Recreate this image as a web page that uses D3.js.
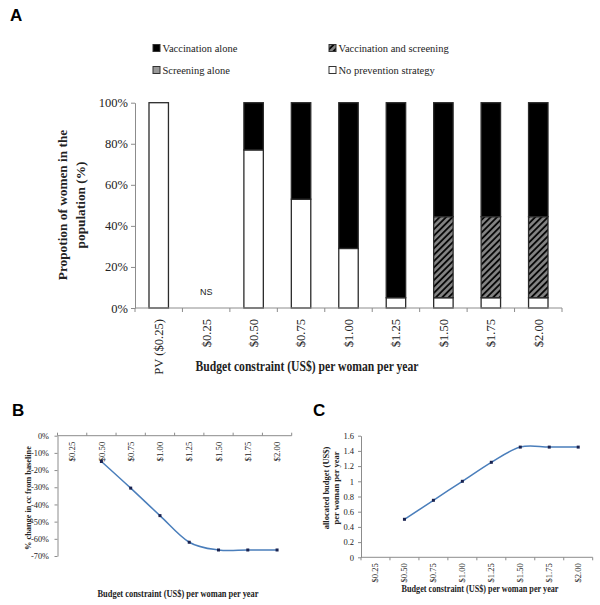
<!DOCTYPE html>
<html>

<head>
    <meta charset="utf-8" />
    <title>Budget constraint</title>
    <script src="https://d3js.org/d3.v7.min.js"></script>
    <style>
        body { margin: 0; background: #fff; }
        text { font-family: "Liberation Serif", "Times New Roman", serif; fill: #222; }
        .panel { font-family: "Liberation Sans", Arial, sans-serif; font-weight: bold; font-size: 17px; fill: #000; }
    </style>
</head>

<body>
    <svg id="chart" width="600" height="605"></svg>

    <script>

        // ---- data: panel A (stacked %, bottom -> top) ----
        var catsA = ["PV ($0.25)", "$0.25", "$0.50", "$0.75", "$1.00", "$1.25", "$1.50", "$1.75", "$2.00"];
        var noPrevention = [100, 0, 77, 53, 29, 5, 5, 5, 5];
        var screeningAlone = [0, 0, 0, 0, 0, 0, 0, 0, 0];
        var vaccAndScreening = [0, 0, 0, 0, 0, 0, 39.5, 39.5, 39.5];
        var vaccinationAlone = [0, 0, 23, 47, 71, 95, 55.5, 55.5, 55.5];
        var notSimulated = ["$0.25"];
        var pctTicks = [0, 20, 40, 60, 80, 100];

        // ---- data: panels B and C ----
        var catsBC = ["$0.25", "$0.50", "$0.75", "$1.00", "$1.25", "$1.50", "$1.75", "$2.00"];
        var ccChange = [null, -15, -30.5, -46.5, -62, -66.5, -66.5, -66.5];
        var allocated = [null, 0.5, 0.75, 1.0, 1.25, 1.45, 1.45, 1.45];
        var ccTicks = [0, -10, -20, -30, -40, -50, -60, -70];
        var budgetTicks = [0, 0.2, 0.4, 0.6, 0.8, 1, 1.2, 1.4, 1.6];

        var svg = d3.select("#chart");
        var axisColor = "#8c8c8c";

        // hatch for vaccination and screening
        var defs = svg.append("defs");
        var pat = defs.append("pattern")
            .attr("id", "hatch")
            .attr("patternUnits", "userSpaceOnUse")
            .attr("width", 4.5).attr("height", 4.5)
            .attr("patternTransform", "rotate(45)");
        pat.append("rect").attr("width", 4.5).attr("height", 4.5).attr("fill", "#858585");
        pat.append("line").attr("x1", 1).attr("y1", 0).attr("x2", 1).attr("y2", 4.5)
            .attr("stroke", "#000").attr("stroke-width", 1.8);

        var series = [
            { name: "No prevention strategy", values: noPrevention, fill: "#fff" },
            { name: "Screening alone", values: screeningAlone, fill: "#999" },
            { name: "Vaccination and screening", values: vaccAndScreening, fill: "url(#hatch)" },
            { name: "Vaccination alone", values: vaccinationAlone, fill: "#000" }
        ];

        // ================= Panel A =================
        svg.append("text").attr("class", "panel").attr("x", 10).attr("y", 21).text("A");

        // legend
        var legendItems = [
            { s: series[3], x: 153, y: 48 },
            { s: series[2], x: 329, y: 48 },
            { s: series[1], x: 153, y: 70 },
            { s: series[0], x: 329, y: 70 }
        ];
        var lg = svg.append("g").selectAll("g").data(legendItems).enter().append("g")
            .attr("transform", function (d) { return "translate(" + d.x + "," + d.y + ")"; });
        lg.append("rect").attr("x", 0).attr("y", -3.5).attr("width", 7).attr("height", 7)
            .attr("fill", function (d) { return d.s.fill; })
            .attr("stroke", "#333").attr("stroke-width", 1);
        lg.append("text").attr("x", 9.5).attr("dy", "0.35em")
            .style("font-size", "10.5px")
            .text(function (d) { return d.s.name; });

        var xA = d3.scaleBand().domain(catsA).range([135, 562]).padding(0);
        var yA = d3.scaleLinear().domain([0, 100]).range([308, 102.7]);
        var barW = xA.bandwidth() * 0.41;

        // stacked bars
        var stackRows = catsA.map(function (c, i) {
            var row = { cat: c };
            series.forEach(function (s) { row[s.name] = s.values[i]; });
            return row;
        });
        var stack = d3.stack().keys(series.map(function (s) { return s.name; }));
        var layers = stack(stackRows);

        svg.append("g").selectAll("g").data(layers).enter().append("g")
            .attr("fill", function (d, i) { return series[i].fill; })
            .selectAll("rect")
            .data(function (d) { return d.filter(function (p) { return p[1] - p[0] > 0; }); })
            .enter().append("rect")
            .attr("x", function (d) { return xA(d.data.cat) + (xA.bandwidth() - barW) / 2; })
            .attr("y", function (d) { return yA(d[1]); })
            .attr("width", barW)
            .attr("height", function (d) { return yA(d[0]) - yA(d[1]); })
            .attr("stroke", "#2b2b2b").attr("stroke-width", 1.3);

        // NS label
        svg.append("g").selectAll("text").data(notSimulated).enter().append("text")
            .attr("x", function (d) { return xA(d) + xA.bandwidth() / 2; })
            .attr("y", 295)
            .attr("text-anchor", "middle")
            .style("font-family", "Liberation Sans, Arial, sans-serif")
            .style("font-size", "9px")
            .text("NS");

        // y axis A
        var yAxisA = svg.append("g").attr("transform", "translate(135,0)")
            .call(d3.axisLeft(yA).tickValues(pctTicks).tickSize(4).tickSizeOuter(0)
                .tickFormat(function (d) { return d + "%"; }));
        yAxisA.selectAll("text").style("font-size", "12.5px").attr("x", -7);
        yAxisA.select(".domain").attr("stroke", axisColor);
        yAxisA.selectAll(".tick line").attr("stroke", axisColor);

        // x axis A: line + ticks at category boundaries
        var gxA = svg.append("g");
        gxA.append("line").attr("x1", 135).attr("x2", 562).attr("y1", yA(0)).attr("y2", yA(0))
            .attr("stroke", axisColor);
        gxA.selectAll("line.tk").data(catsA.concat(["end"])).enter().append("line")
            .attr("class", "tk")
            .attr("x1", function (d, i) { return 135 + i * xA.step(); })
            .attr("x2", function (d, i) { return 135 + i * xA.step(); })
            .attr("y1", yA(0)).attr("y2", yA(0) + 4)
            .attr("stroke", axisColor);
        gxA.selectAll("text").data(catsA).enter().append("text")
            .attr("transform", function (d) {
                return "translate(" + (xA(d) + xA.bandwidth() / 2) + "," + (yA(0) + 11) + ") rotate(-90)";
            })
            .attr("text-anchor", "end").attr("dy", "0.35em")
            .style("font-size", "12.6px")
            .text(function (d) { return d; });

        svg.append("text").attr("x", 307).attr("y", 371).attr("text-anchor", "middle")
            .attr("textLength", 223).attr("lengthAdjust", "spacingAndGlyphs")
            .style("font-size", "14.5px").style("font-weight", "bold")
            .text("Budget  constraint (US$) per woman per year");

        var yTitleA = svg.append("text").attr("transform", "translate(67,205) rotate(-90)")
            .attr("text-anchor", "middle")
            .style("font-size", "13.3px").style("font-weight", "bold");
        yTitleA.append("tspan").attr("x", 0).attr("dy", 0).text("Propotion of women in the");
        yTitleA.append("tspan").attr("x", 0).attr("dy", 18).text("population (%)");

        // ================= Panel B =================
        svg.append("text").attr("class", "panel").attr("x", 12).attr("y", 416).text("B");

        var xB = d3.scaleBand().domain(catsBC).range([57.5, 291.7]).padding(0);
        var yB = d3.scaleLinear().domain([-70, 0]).range([556, 435.7]);

        var yAxisB = svg.append("g").attr("transform", "translate(57.5,0)")
            .call(d3.axisLeft(yB).tickValues(ccTicks).tickSize(3).tickSizeOuter(0)
                .tickFormat(function (d) { return d + "%"; }));
        yAxisB.selectAll("text").style("font-size", "8.3px").attr("x", -8.5);
        yAxisB.select(".domain").attr("stroke", axisColor);
        yAxisB.selectAll(".tick line").attr("stroke", axisColor);

        var gxB = svg.append("g");
        gxB.append("line").attr("x1", 57.5).attr("x2", 291.7).attr("y1", yB(0)).attr("y2", yB(0))
            .attr("stroke", axisColor);
        gxB.selectAll("line.tk").data(catsBC.concat(["end"])).enter().append("line")
            .attr("class", "tk")
            .attr("x1", function (d, i) { return 57.5 + i * xB.step(); })
            .attr("x2", function (d, i) { return 57.5 + i * xB.step(); })
            .attr("y1", yB(0)).attr("y2", yB(0) - 3)
            .attr("stroke", axisColor);
        gxB.selectAll("text").data(catsBC).enter().append("text")
            .attr("transform", function (d) {
                return "translate(" + (xB(d) + xB.bandwidth() / 2) + "," + (yB(0) + 6) + ") rotate(-90)";
            })
            .attr("text-anchor", "end").attr("dy", "0.35em")
            .style("font-size", "8.8px")
            .text(function (d) { return d; });

        var ptsB = catsBC.map(function (c, i) { return { c: c, v: ccChange[i] }; })
            .filter(function (d) { return d.v !== null; });
        var lineB = d3.line()
            .x(function (d) { return xB(d.c) + xB.bandwidth() / 2; })
            .y(function (d) { return yB(d.v); })
            .curve(d3.curveCardinal.tension(0));
        svg.append("path").datum(ptsB).attr("d", lineB)
            .attr("fill", "none").attr("stroke", "#4a7ebb").attr("stroke-width", 1.5);
        svg.append("g").selectAll("rect").data(ptsB).enter().append("rect")
            .attr("x", function (d) { return xB(d.c) + xB.bandwidth() / 2 - 1.5; })
            .attr("y", function (d) { return yB(d.v) - 1.5; })
            .attr("width", 3).attr("height", 3).attr("fill", "#1a2350");

        svg.append("text").attr("x", 178).attr("y", 597).attr("text-anchor", "middle")
            .attr("textLength", 161).attr("lengthAdjust", "spacingAndGlyphs")
            .style("font-size", "9.5px").style("font-weight", "bold")
            .text("Budget constraint (US$) per woman per year");
        svg.append("text").attr("transform", "translate(30.5,498) rotate(-90)")
            .attr("text-anchor", "middle")
            .style("font-size", "8.3px").style("font-weight", "bold")
            .text("% change in cc from baseline");

        // ================= Panel C =================
        svg.append("text").attr("class", "panel").attr("x", 313).attr("y", 416).text("C");

        var xC = d3.scaleBand().domain(catsBC).range([361, 592.7]).padding(0);
        var yC = d3.scaleLinear().domain([0, 1.6]).range([557.3, 435.7]);

        var yAxisC = svg.append("g").attr("transform", "translate(361,0)")
            .call(d3.axisLeft(yC).tickValues(budgetTicks).tickSize(3).tickSizeOuter(0)
                .tickFormat(d3.format("~g")));
        yAxisC.selectAll("text").style("font-size", "8.5px").attr("x", -7);
        yAxisC.select(".domain").attr("stroke", axisColor);
        yAxisC.selectAll(".tick line").attr("stroke", axisColor);

        var gxC = svg.append("g");
        gxC.append("line").attr("x1", 361).attr("x2", 592.7).attr("y1", yC(0)).attr("y2", yC(0))
            .attr("stroke", axisColor);
        gxC.selectAll("line.tk").data(catsBC.concat(["end"])).enter().append("line")
            .attr("class", "tk")
            .attr("x1", function (d, i) { return 361 + i * xC.step(); })
            .attr("x2", function (d, i) { return 361 + i * xC.step(); })
            .attr("y1", yC(0)).attr("y2", yC(0) + 3)
            .attr("stroke", axisColor);
        gxC.selectAll("text").data(catsBC).enter().append("text")
            .attr("transform", function (d) {
                return "translate(" + (xC(d) + xC.bandwidth() / 2) + "," + (yC(0) + 6) + ") rotate(-90)";
            })
            .attr("text-anchor", "end").attr("dy", "0.35em")
            .style("font-size", "8.5px")
            .text(function (d) { return d; });

        var ptsC = catsBC.map(function (c, i) { return { c: c, v: allocated[i] }; })
            .filter(function (d) { return d.v !== null; });
        var lineC = d3.line()
            .x(function (d) { return xC(d.c) + xC.bandwidth() / 2; })
            .y(function (d) { return yC(d.v); })
            .curve(d3.curveCardinal.tension(0));
        svg.append("path").datum(ptsC).attr("d", lineC)
            .attr("fill", "none").attr("stroke", "#4a7ebb").attr("stroke-width", 1.5);
        svg.append("g").selectAll("rect").data(ptsC).enter().append("rect")
            .attr("x", function (d) { return xC(d.c) + xC.bandwidth() / 2 - 1.5; })
            .attr("y", function (d) { return yC(d.v) - 1.5; })
            .attr("width", 3).attr("height", 3).attr("fill", "#1a2350");

        svg.append("text").attr("x", 480).attr("y", 592).attr("text-anchor", "middle")
            .attr("textLength", 157).attr("lengthAdjust", "spacingAndGlyphs")
            .style("font-size", "9.5px").style("font-weight", "bold")
            .text("Budget constraint (US$) per woman per year");
        var yTitleC = svg.append("text").attr("transform", "translate(329,488) rotate(-90)")
            .attr("text-anchor", "middle")
            .style("font-size", "8.5px").style("font-weight", "bold");
        yTitleC.append("tspan").attr("x", 0).attr("dy", 0).text("allocated budget (US$)");
        yTitleC.append("tspan").attr("x", 0).attr("dy", 10).text("per woman per year");

    </script>

</body>

</html>
